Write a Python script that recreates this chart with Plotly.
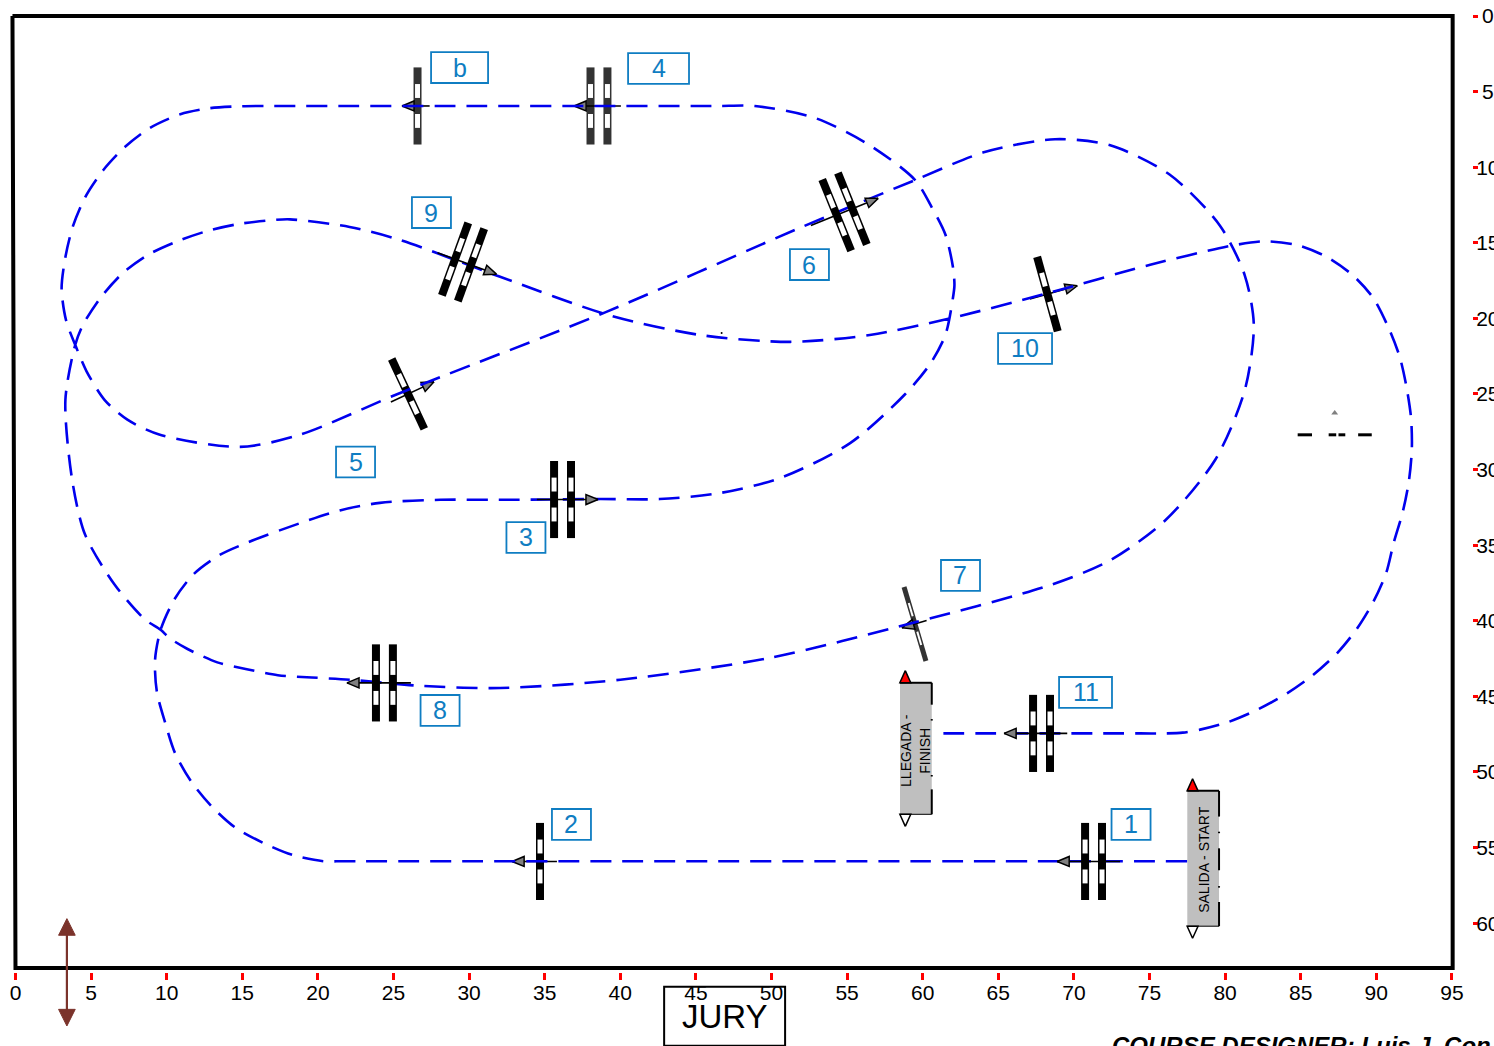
import math
import plotly.graph_objects as go

FONT = "Liberation Sans"
BLUE = "#0000EE"
LABEL = "#0F7DC2"
BROWN = "#7B332B"

x_ticks = list(range(0, 100, 5))
y_ticks = list(range(0, 65, 5))
frame_x = [-0.2, 95.05, 95.05, 0.0, -0.2]
frame_y = [0.0, 0.0, 62.96, 62.96, 0.0]

course_x = [77.5, 60, 40, 25.4, 23, 21.6, 20.35, 18.35, 16.4, 14.5, 12.95, 11.6, 10.55, 9.9, 9.35, 9.23, 9.6, 10.5, 11.8,
            13.5, 15.4, 18.8, 21.45, 24.1, 28.1, 32, 38.7, 42.6, 46.6, 50.6, 55.2, 58.8, 60.5, 61.5, 62.0, 62.1, 62.0, 61.5,
            60.6, 59.5, 56.5, 52.9, 48.9, 46.5, 44, 30, 18.5, 16.5, 14.85, 12.85, 10.9, 8.9, 7.25, 5.8, 4.6, 3.8, 3.3, 3.05,
            3.35, 3.95, 4.7, 5.9, 7.4, 9.55, 14.85, 18.8, 25.4, 39, 51.9, 59.5, 64.1, 68.75, 72.4, 76.35, 79.65, 81.3, 81.9,
            81.3, 79.35, 76.05, 72.4, 68.4, 59.5, 49.9, 40, 32.05, 26.75, 22.1, 19.6, 17.35, 15.3, 13.35, 11.35, 10.2, 9.6,
            8.55, 6.55, 4.6, 3.75, 3.3, 3.95, 4.45, 5.65, 7.1, 8.75, 10.7, 12.75, 14.8, 17, 18.15, 22.1, 25.4, 32.05,
            39.3, 45.3, 51.25, 56.5, 61.8, 68.4, 75.05, 80.65, 82.65, 84.75, 86.75, 88.45, 89.8, 90.8, 91.55, 92, 92.3,
            92.35, 92.15, 91.75, 91.15, 90.65, 89.8, 88.7, 87.4, 85.8, 84.1, 82.2, 80.2, 78.35, 77.2, 76, 74.4, 72, 60.7]
course_y = [55.9, 55.9, 55.9, 55.9, 55.9, 55.9, 55.9, 55.5, 54.7, 53.65, 52.25, 50.6, 48.75, 46.75, 44.7, 42.6, 40.6, 38.6,
            36.9, 35.65, 34.8, 33.55, 32.7, 32.2, 32.0, 32, 31.95, 31.95, 31.55, 30.55, 28.25, 25.05, 23.0, 21.1, 18.65,
            17.8, 16.6, 14.45, 12.65, 10.85, 8.55, 6.75, 5.95, 5.95, 5.95, 5.95, 5.95, 5.95, 5.97, 6.1, 6.5, 7.4, 8.65, 10.2,
            12.0, 13.9, 15.95, 18.05, 20.15, 21.75, 23.5, 25.4, 26.7, 27.7, 28.5, 27.7, 24.95, 19.6, 14.0, 10.85, 9.0, 8.15,
            8.55, 10.5, 13.85, 17.15, 20.45, 24.75, 29.35, 33.35, 36, 37.65, 40.1, 42.45, 43.9, 44.45, 44.3, 43.9, 43.75,
            43.6, 43.2, 42.75, 41.85, 41.15, 40.6, 39.9, 37.6, 34.3, 30.7, 25.4, 21.75, 20.45, 18.6, 17.0, 15.8, 14.9, 14.2,
            13.75, 13.5, 13.45, 13.95, 14.8, 17.25, 19.8, 21.1, 21.55, 21.1, 20, 18.3, 16.45, 15.15, 14.9, 15.15, 15.95,
            17.15, 18.65, 20.6, 22.55, 24.55, 26.6, 28.7, 30.8, 32.8, 34.85, 36.85, 38.75, 40.55, 42.15, 43.6, 44.8, 45.85,
            46.7, 47.2, 47.4, 47.45, 47.45, 47.45, 47.45]

ob_x = [26.59, 38.59, 34.69, 25.96, 68.25, 59.49, 36.18, 24.40, 67.86, 71.30, 54.83, 29.60]
ob_y = [5.95, 5.95, 55.92, 25.0, 18.39, 40.21, 31.98, 44.11, 47.45, 55.92, 12.96, 16.27]
ob_heading = [180, 180, 180, -25, -15.5, 163.5, 0, 180, 180, 180, -22, 20]
ob_poles = [1, 2, 1, 1, 1, 1, 2, 2, 2, 2, 2, 2]
ob_tip = [1.03, 1.65, 1.85, 1.9, 2.05, 0.9, 2.35, 2.48, 2.48, 2.41, 2.4, 2.35]
ob_tail = [0.8, 1.45, 1.12, 1.25, 1.2, 0.8, 1.7, 1.75, 1.7, 1.75, 2.4, 1.8]
ob_color = ["#333333", "#333333", "#000000", "#000000", "#000000", "#333333",
            "#000000", "#000000", "#000000", "#000000", "#000000", "#000000"]
ob_under_course = [True, True, True, True, True, True, False, False, False, False, False, False]

label_text = ["b", "4", "9", "6", "10", "5", "3", "7", "8", "11", "1", "2"]
label_x = [29.37, 42.53, 27.51, 52.51, 66.77, 22.49, 33.76, 62.5, 28.08, 70.77, 73.78, 36.77]
label_y = [3.41, 3.47, 13.0, 16.44, 21.99, 29.5, 34.49, 37.0, 45.93, 44.74, 53.47, 53.47]
label_w = [3.77, 4.03, 2.58, 2.58, 3.57, 2.58, 2.58, 2.58, 2.58, 3.5, 2.58, 2.58]

start_x = [77.5, 79.6]
start_y = [51.25, 60.2]
start_edge = [51.25, 52.95, None, 53.95, 54.05, None, 55.05, 56.5, None, 57.55, 57.65, None, 58.6, 60.2]
finish_x = [58.5, 60.6]
finish_y = [44.1, 52.8]
finish_edge = [44.1, 45.55, None, 46.5, 46.6, None, 50.2, 50.3, None, 51.15, 52.8]

hidden_x = [84.8, 85.75, None, 86.85, 87.35, None, 87.5, 87.95, None, 88.8, 89.7]
hidden_y = [27.7, 27.7, None, 27.7, 27.7, None, 27.7, 27.7, None, 27.7, 27.7]

jury_x = [42.9, 50.9]
jury_y = [64.2, 68.1]
jury_arrow_x = 3.4
jury_arrow_y = [60.0, 66.5]

Y_TOP, Y_BOTTOM = -0.728, 63.23


def paper_y(v):
    return 1 - (v - Y_TOP) / (Y_BOTTOM - Y_TOP)


fig = go.Figure()


def line(xs, ys, color, width, dash=None):
    fig.add_trace(go.Scatter(x=xs, y=ys, mode="lines", line=dict(color=color, width=width, dash=dash), hoverinfo="skip"))


def triangle(tx, ty, heading, length, width, fill, edge, edge_w=1.5):
    h = math.radians(heading)
    dx, dy = math.cos(h), math.sin(h)
    bx, by = tx - dx * length, ty - dy * length
    px, py = -dy * width / 2, dx * width / 2
    fig.add_trace(go.Scatter(x=[tx, bx + px, bx - px, tx], y=[ty, by + py, by - py, ty], mode="lines",
                             fill="toself", fillcolor=fill,
                             line=dict(color=edge, width=edge_w), hoverinfo="skip"))


def obstacle(i):
    h = math.radians(ob_heading[i])
    dx, dy = math.cos(h), math.sin(h)
    px, py = -dy, dx
    offsets = [0.0] if ob_poles[i] == 1 else [-0.56, 0.56]
    width = 5 if i == 5 else 8
    for off in offsets:
        cx, cy = ob_x[i] + dx * off, ob_y[i] + dy * off
        line([cx - px * 2.55, cx + px * 2.55], [cy - py * 2.55, cy + py * 2.55], ob_color[i], width)
        for a, b in ((0.53, 1.45), (-1.45, -0.53)):
            line([cx + px * a, cx + px * b], [cy + py * a, cy + py * b], "#FFFFFF", width - 3)
    line([ob_x[i] - dx * ob_tail[i], ob_x[i] + dx * ob_tip[i]], [ob_y[i] - dy * ob_tail[i], ob_y[i] + dy * ob_tip[i]],
         "#000000", 1.6)
    triangle(ob_x[i] + dx * ob_tip[i], ob_y[i] + dy * ob_tip[i], ob_heading[i], 0.8, 0.66, "#808080", "#000000")


for i in range(len(ob_x)):
    if ob_under_course[i]:
        obstacle(i)

fig.add_trace(go.Scatter(x=course_x, y=course_y, mode="lines", hoverinfo="skip",
                         line=dict(color=BLUE, width=2.6, dash="21px,11px", shape="spline", smoothing=0.8)))

for i in range(len(ob_x)):
    if not ob_under_course[i]:
        obstacle(i)

for gx, gy, edge in ((start_x, start_y, start_edge), (finish_x, finish_y, finish_edge)):
    fig.add_trace(go.Scatter(x=[gx[0], gx[1], gx[1], gx[0], gx[0]], y=[gy[0], gy[0], gy[1], gy[1], gy[0]], mode="lines",
                             fill="toself", fillcolor="#BFBFBF", line=dict(width=0, color="#BFBFBF"), hoverinfo="skip"))
    line(gx, [gy[0], gy[0]], "#000000", 2)
    line([gx[1] if v is not None else None for v in edge], edge, "#000000", 2)
    line(gx, [gy[1], gy[1]], "#000000", 1)
    triangle(gx[0] + 0.35, gy[0] - 0.8, -90, 0.8, 0.72, "#FF0000", "#000000")
    triangle(gx[0] + 0.35, gy[1] + 0.8, 90, 0.8, 0.72, "#FFFFFF", "#000000")

line(hidden_x, hidden_y, "#000000", 3)
fig.add_trace(go.Scatter(x=[87.25], y=[26.25], mode="markers", hoverinfo="skip",
                         marker=dict(symbol="triangle-up", size=6, color="#808080")))
fig.add_trace(go.Scatter(x=[46.7], y=[20.97], mode="markers", hoverinfo="skip",
                         marker=dict(size=2, color="#000000")))

line(frame_x, frame_y, "#000000", 4)

# marks that run below the plot area use the paper coordinate for y, so they are not clipped
fig.add_shape(type="rect", xref="x", yref="paper", x0=jury_x[0], x1=jury_x[1], y0=paper_y(jury_y[0]), y1=paper_y(jury_y[1]),
              line=dict(color="#000000", width=2))
fig.add_shape(type="line", xref="x", yref="paper", x0=jury_arrow_x, x1=jury_arrow_x,
              y0=paper_y(jury_arrow_y[0]), y1=paper_y(jury_arrow_y[1]), line=dict(color=BROWN, width=2.2))
for tip, base in ((jury_arrow_y[0] - 0.3, jury_arrow_y[0] + 0.8), (jury_arrow_y[1] + 0.3, jury_arrow_y[1] - 0.8)):
    fig.add_shape(type="path", xref="x", yref="paper", fillcolor=BROWN, line=dict(color=BROWN, width=1),
                  path=f"M {jury_arrow_x},{paper_y(tip)} L {jury_arrow_x + 0.55},{paper_y(base)} "
                       f"L {jury_arrow_x - 0.55},{paper_y(base)} Z")

for t, x, y, w in zip(label_text, label_x, label_y, label_w):
    fig.add_shape(type="rect", x0=x - w / 2, x1=x + w / 2, y0=y - 1.02, y1=y + 1.02,
                  line=dict(color=LABEL, width=1.8), layer="above")
    fig.add_annotation(x=x, y=y, text=t, showarrow=False, font=dict(family=FONT, size=25, color=LABEL))

fig.add_annotation(x=78.6, y=55.75, text="SALIDA - START", textangle=-90, showarrow=False,
                   font=dict(family=FONT, size=14, color="#000000"))
fig.add_annotation(x=59.5, y=48.6, text="LLEGADA -<br>FINISH", textangle=-90, showarrow=False,
                   font=dict(family=FONT, size=14, color="#000000"))
fig.add_annotation(x=46.9, yref="paper", y=paper_y(66.2), yanchor="middle", text="JURY", showarrow=False,
                   font=dict(family=FONT, size=33, color="#000000"))
fig.add_annotation(x=72.4, yref="paper", y=paper_y(68.1), yanchor="middle",
                   text="<b><i>COURSE DESIGNER: Luis J. Con</i></b>",
                   showarrow=False, xanchor="left", font=dict(family=FONT, size=24, color="#000000"))

fig.update_layout(
    width=1494, height=1046, autosize=False, showlegend=False, hovermode=False,
    paper_bgcolor="#FFFFFF", plot_bgcolor="#FFFFFF",
    margin=dict(l=5, r=22, t=5, b=74, pad=0),
    font=dict(family=FONT, size=21, color="#000000"),
    xaxis=dict(range=[-0.694, 96.33], tickmode="array", tickvals=x_ticks, ticktext=[str(v) for v in x_ticks],
               ticks="outside", ticklen=7, tickwidth=3, tickcolor="#FF0000", showgrid=False, zeroline=False,
               showline=False, tickangle=0, automargin=False, ticklabelstandoff=-5),
    yaxis=dict(range=[Y_BOTTOM, Y_TOP], side="right", tickmode="array", tickvals=y_ticks,
               ticktext=[("\u00a0" + str(v)) if v < 10 else str(v) for v in y_ticks],
               ticks="outside", ticklen=5, tickwidth=3, tickcolor="#FF0000", showgrid=False, zeroline=False,
               showline=False, automargin=False, ticklabelstandoff=-6),
)

fig.write_html("out.html", config=dict(displayModeBar=False),
               post_script="document.body.style.margin='0';document.body.style.overflow='hidden';")
